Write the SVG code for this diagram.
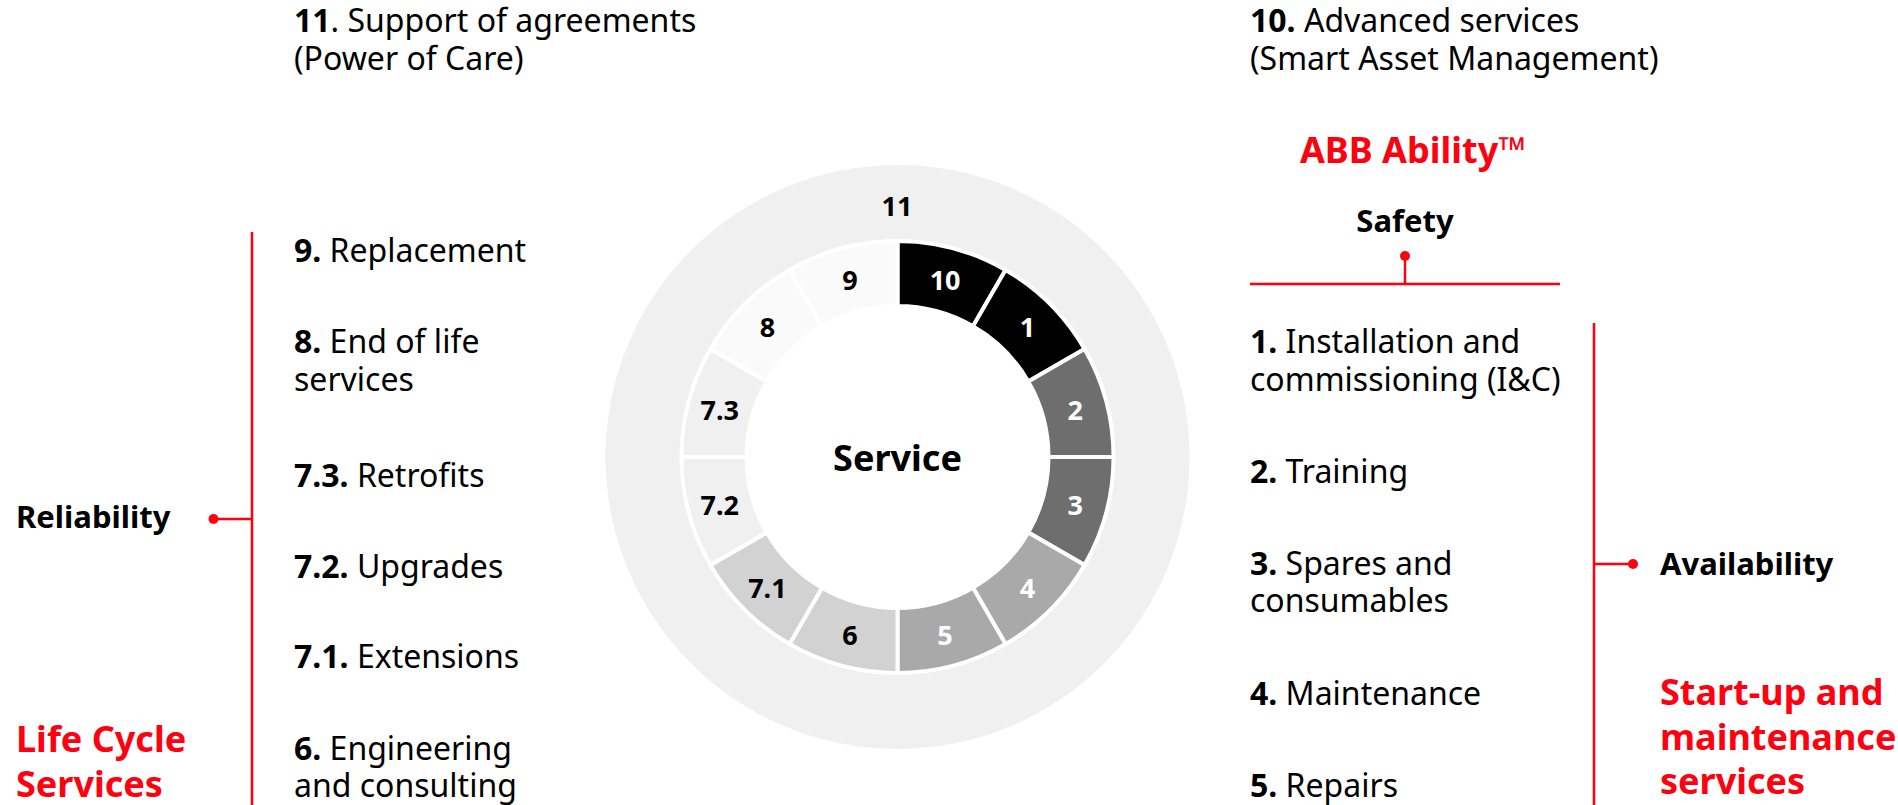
<svg xmlns="http://www.w3.org/2000/svg" width="1898" height="805" viewBox="0 0 1898 805">
<style>
text{font-family:"Noto Sans","Open Sans","Liberation Sans",sans-serif;fill:#000}
.t{font-size:32px}
.b{font-weight:700}
.lbl{font-size:31px;font-weight:700}
.head{font-size:36px;font-weight:700;fill:#FF000F}
.seg{stroke:#fff;stroke-width:4}
.sl{font-size:27px;font-weight:700;text-anchor:middle;dominant-baseline:central}
.w{fill:#fff}
.red{stroke:#FF000F;stroke-width:2.5;fill:none}
.dot{fill:#FF000F}
</style>
<rect width="1898" height="805" fill="#fff"/>

<g id="outer-ring">
<circle cx="897.5" cy="457" r="292" fill="#f0f0f0"/>
<text class="sl" x="897" y="205">11</text>
</g>

<g id="wheel">
<g id="seg-10"><path class="seg" fill="#000" d="M897.5,241 A216,216 0 0 1 1005.5,269.94 L973,326.23 A151,151 0 0 0 897.5,306 Z"/><text class="sl w" x="945.1" y="279.3">10</text></g>
<g id="seg-1"><path class="seg" fill="#000" d="M1005.5,269.94 A216,216 0 0 1 1084.56,349 L1028.27,381.5 A151,151 0 0 0 973,326.23 Z"/><text class="sl w" x="1027.6" y="326.9">1</text></g>
<g id="seg-2"><path class="seg" fill="#6e6e6e" d="M1084.56,349 A216,216 0 0 1 1113.5,457 L1048.5,457 A151,151 0 0 0 1028.27,381.5 Z"/><text class="sl w" x="1075.2" y="409.4">2</text></g>
<g id="seg-3"><path class="seg" fill="#6e6e6e" d="M1113.5,457 A216,216 0 0 1 1084.56,565 L1028.27,532.5 A151,151 0 0 0 1048.5,457 Z"/><text class="sl w" x="1075.2" y="504.6">3</text></g>
<g id="seg-4"><path class="seg" fill="#a9a9a9" d="M1084.56,565 A216,216 0 0 1 1005.5,644.06 L973,587.77 A151,151 0 0 0 1028.27,532.5 Z"/><text class="sl w" x="1027.6" y="587.1">4</text></g>
<g id="seg-5"><path class="seg" fill="#a9a9a9" d="M1005.5,644.06 A216,216 0 0 1 897.5,673 L897.5,608 A151,151 0 0 0 973,587.77 Z"/><text class="sl w" x="945.1" y="634.7">5</text></g>
<g id="seg-6"><path class="seg" fill="#d2d2d2" d="M897.5,673 A216,216 0 0 1 789.5,644.06 L822,587.77 A151,151 0 0 0 897.5,608 Z"/><text class="sl" x="849.9" y="634.7">6</text></g>
<g id="seg-7-1"><path class="seg" fill="#d2d2d2" d="M789.5,644.06 A216,216 0 0 1 710.44,565 L766.73,532.5 A151,151 0 0 0 822,587.77 Z"/><text class="sl" x="767.4" y="587.1">7.1</text></g>
<g id="seg-7-2"><path class="seg" fill="#f0f0f0" d="M710.44,565 A216,216 0 0 1 681.5,457 L746.5,457 A151,151 0 0 0 766.73,532.5 Z"/><text class="sl" x="719.8" y="504.6">7.2</text></g>
<g id="seg-7-3"><path class="seg" fill="#f0f0f0" d="M681.5,457 A216,216 0 0 1 710.44,349 L766.73,381.5 A151,151 0 0 0 746.5,457 Z"/><text class="sl" x="719.8" y="409.4">7.3</text></g>
<g id="seg-8"><path class="seg" fill="#fafafa" d="M710.44,349 A216,216 0 0 1 789.5,269.94 L822,326.23 A151,151 0 0 0 766.73,381.5 Z"/><text class="sl" x="767.4" y="326.9">8</text></g>
<g id="seg-9"><path class="seg" fill="#fafafa" d="M789.5,269.94 A216,216 0 0 1 897.5,241 L897.5,306 A151,151 0 0 0 822,326.23 Z"/><text class="sl" x="849.9" y="279.3">9</text></g>
<g id="center"><circle cx="897.5" cy="457" r="152" fill="#fff"/><text x="897.5" y="457" font-size="36" font-weight="700" text-anchor="middle" dominant-baseline="central">Service</text></g>
</g>

<g id="connectors">
<line class="red" x1="252" y1="232" x2="252" y2="805"/>
<line class="red" x1="213.5" y1="519" x2="252" y2="519"/>
<circle class="dot" cx="213.5" cy="519" r="5"/>
<line class="red" x1="1250" y1="284" x2="1560" y2="284"/>
<line class="red" x1="1405" y1="256" x2="1405" y2="284"/>
<circle class="dot" cx="1405" cy="256" r="5"/>
<line class="red" x1="1594" y1="323" x2="1594" y2="805"/>
<line class="red" x1="1594" y1="564" x2="1633" y2="564"/>
<circle class="dot" cx="1633" cy="564" r="5"/>
</g>

<g id="left-column">
<g id="item-11"><text class="t" x="294" y="32"><tspan class="b">11</tspan>. Support of agreements<tspan x="294" dy="38">(Power of Care)</tspan></text></g>
<g id="item-9"><text class="t" x="294" y="262"><tspan class="b">9.</tspan> Replacement</text></g>
<g id="item-8"><text class="t" x="294" y="353"><tspan class="b">8.</tspan> End of life<tspan x="294" dy="38">services</tspan></text></g>
<g id="item-7-3"><text class="t" x="294" y="487"><tspan class="b">7.3.</tspan> Retrofits</text></g>
<g id="item-7-2"><text class="t" x="294" y="578"><tspan class="b">7.2.</tspan> Upgrades</text></g>
<g id="item-7-1"><text class="t" x="294" y="668"><tspan class="b">7.1.</tspan> Extensions</text></g>
<g id="item-6"><text class="t" x="294" y="760"><tspan class="b">6.</tspan> Engineering<tspan x="294" dy="37">and consulting</tspan></text></g>
<g id="reliability"><text class="lbl" x="16" y="528">Reliability</text></g>
<g id="life-cycle"><text class="head" x="16" y="752">Life Cycle<tspan x="16" dy="45">Services</tspan></text></g>
</g>

<g id="right-column">
<g id="item-10"><text class="t" x="1250" y="32"><tspan class="b">10.</tspan> Advanced services<tspan x="1250" dy="38">(Smart Asset Management)</tspan></text></g>
<g id="abb-ability"><text class="head" x="1413" y="163" text-anchor="middle">ABB Ability™</text></g>
<g id="safety"><text class="lbl" x="1405" y="232" text-anchor="middle">Safety</text></g>
<g id="item-1"><text class="t" x="1250" y="353"><tspan class="b">1.</tspan> Installation and<tspan x="1250" dy="38">commissioning (I&amp;C)</tspan></text></g>
<g id="item-2"><text class="t" x="1250" y="483"><tspan class="b">2.</tspan> Training</text></g>
<g id="item-3"><text class="t" x="1250" y="575"><tspan class="b">3.</tspan> Spares and<tspan x="1250" dy="37">consumables</tspan></text></g>
<g id="item-4"><text class="t" x="1250" y="705"><tspan class="b">4.</tspan> Maintenance</text></g>
<g id="item-5"><text class="t" x="1250" y="797"><tspan class="b">5.</tspan> Repairs</text></g>
<g id="availability"><text class="lbl" x="1660" y="575">Availability</text></g>
<g id="startup"><text class="head" x="1660" y="705">Start-up and<tspan x="1660" dy="45">maintenance</tspan><tspan x="1660" dy="44">services</tspan></text></g>
</g>
</svg>
